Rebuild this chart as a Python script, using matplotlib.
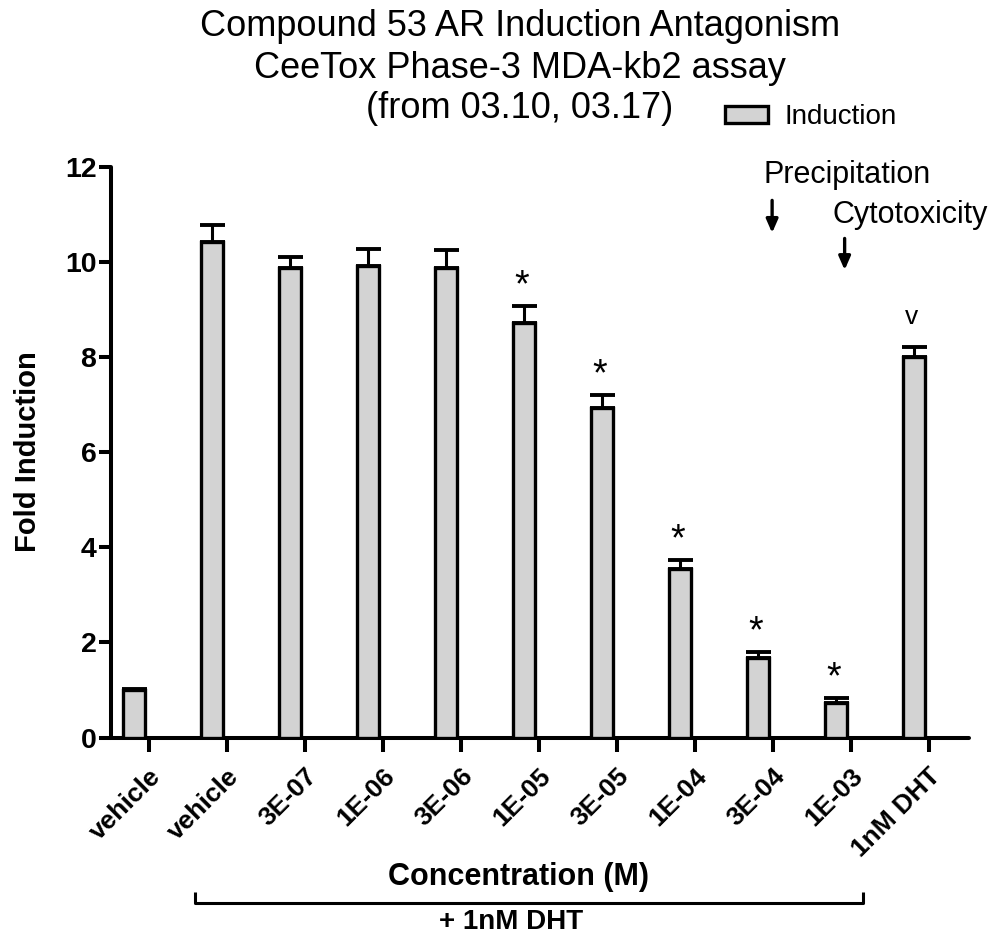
import matplotlib
matplotlib.use("Agg")
import matplotlib.pyplot as plt
from matplotlib.patches import Patch
from matplotlib.transforms import ScaledTranslation, blended_transform_factory
import numpy as np

plt.rcParams['font.family'] = ['Liberation Sans', 'DejaVu Sans']

# --- data ---
labels = ["vehicle", "vehicle", "3E-07", "1E-06", "3E-06", "1E-05",
          "3E-05", "1E-04", "3E-04", "1E-03", "1nM DHT"]
fold = [1.00, 10.42, 9.88, 9.91, 9.88, 8.71, 6.93, 3.54, 1.68, 0.73, 8.00]
sem = [0.02, 0.35, 0.22, 0.35, 0.36, 0.36, 0.26, 0.19, 0.12, 0.09, 0.20]
marks = ["", "", "", "", "", "*", "*", "*", "*", "*", "v"]

W, H = 997, 936
fig = plt.figure(figsize=(W / 100, H / 100), dpi=100)

# axes box in pixels: y-axis at x=110.5, x-axis at y=737.5, top (12) at y=166.7
ax = fig.add_axes([110.5 / W, 1 - 737.5 / H, (969 - 110.5) / W, (737.5 - 166.7) / H])

x = np.arange(len(labels))
ax.bar(x, fold, width=0.28, color="#d3d3d3", edgecolor="black", linewidth=2.4,
       label="Induction", zorder=3)
ax.errorbar(x, fold, yerr=[np.zeros(len(sem)), sem], fmt="none", ecolor="black",
            elinewidth=2.2, capsize=9, capthick=2.8, zorder=4)

# significance marks above the error bars
for xi, yi, ei, m in zip(x, fold, sem, marks):
    if m == "*":
        ax.annotate(m, (xi, yi + ei), xytext=(-1.5, 7), textcoords="offset points",
                    ha="center", va="baseline", fontsize=27, annotation_clip=False)
    elif m == "v":
        ax.annotate(m, (xi, yi + ei), xytext=(-2, 17), textcoords="offset points",
                    ha="center", va="baseline", fontsize=19, annotation_clip=False)

ax.set_xlim(-0.305, 10.705)
ax.set_ylim(0, 12)
ax.set_yticks(np.arange(0, 13, 2))
ax.set_xticks(x + 0.186)
ax.set_xticklabels(labels, rotation=45, ha="right", va="top", rotation_mode="anchor",
                   fontsize=19, fontweight="bold")
for lab in ax.get_xticklabels():
    lab.set_transform(lab.get_transform() + ScaledTranslation(6 / 100, 0, fig.dpi_scale_trans))
for lab in ax.get_yticklabels():
    lab.set_fontweight("bold")
    lab.set_fontsize(20.5)

for s in ["top", "right"]:
    ax.spines[s].set_visible(False)
for s in ["left", "bottom"]:
    ax.spines[s].set_linewidth(2.9)
    ax.spines[s].set_capstyle("round")
ax.tick_params(axis="y", length=8.6, width=2.9, pad=1.5)
ax.tick_params(axis="x", length=10, width=2.9, pad=9)

# arrows and notes (precipitation / cytotoxicity)
ax.annotate("", xy=(8.18, 10.55), xytext=(8.18, 11.35), annotation_clip=False,
            arrowprops=dict(arrowstyle="-|>,head_length=0.8,head_width=0.35",
                            color="black", lw=2.4))
ax.annotate("", xy=(9.11, 9.77), xytext=(9.11, 10.55), annotation_clip=False,
            arrowprops=dict(arrowstyle="-|>,head_length=0.8,head_width=0.35",
                            color="black", lw=2.4))
ax.text(9.14, 11.82, "Precipitation", ha="center", va="center", fontsize=22, clip_on=False)
ax.text(9.95, 10.98, "Cytotoxicity", ha="center", va="center", fontsize=22, clip_on=False)

# axis titles
fig.text(28 / W, 1 - 452 / H, "Fold Induction", rotation=90, ha="center", va="center",
         fontsize=21, fontweight="bold")
fig.text(518 / W, 1 - 877 / H, "Concentration (M)", ha="center", va="center",
         fontsize=22, fontweight="bold")

# bracket for "+ 1nM DHT"
bt = blended_transform_factory(ax.transData, fig.transFigure)
yb, yt = 1 - 903 / H, 1 - 892 / H
ax.plot([0.78, 0.78, 9.34, 9.34], [yt, yb, yb, yt], transform=bt, color="black",
        lw=2.2, clip_on=False, solid_capstyle="butt")
fig.text(511 / W, 1 - 922 / H, "+ 1nM DHT", ha="center", va="center",
         fontsize=20, fontweight="bold")

# title
title_lines = ["Compound 53 AR Induction Antagonism",
               "CeeTox Phase-3 MDA-kb2 assay",
               "(from 03.10, 03.17)"]
for line, ypx in zip(title_lines, [27, 68, 109]):
    fig.text(520 / W, 1 - ypx / H, line, ha="center", va="center", fontsize=26)

# legend
handle = Patch(facecolor="#d3d3d3", edgecolor="black", linewidth=2.4)
fig.legend([handle], ["Induction"], loc="center left", bbox_to_anchor=(725 / W, 1 - 117 / H),
           frameon=False, fontsize=20, handlelength=1.55, handleheight=0.58,
           handletextpad=0.58, borderpad=0, borderaxespad=0)

fig.savefig("out.png", dpi=100)
